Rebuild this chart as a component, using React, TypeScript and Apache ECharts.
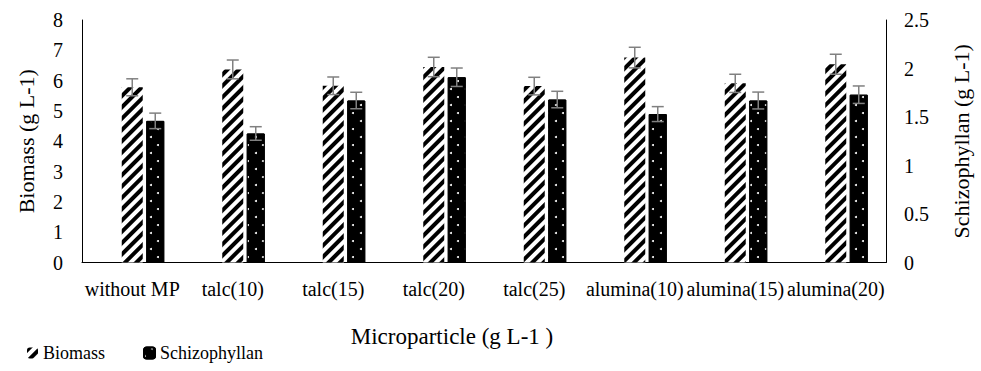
import React, { useEffect, useRef } from "react";
import * as echarts from "echarts";

const categories = [
  "without MP",
  "talc(10)",
  "talc(15)",
  "talc(20)",
  "talc(25)",
  "alumina(10)",
  "alumina(15)",
  "alumina(20)",
];
const biomass = [5.78, 6.37, 5.83, 6.45, 5.82, 6.76, 5.91, 6.54];
const biomassErr = [0.28, 0.31, 0.29, 0.32, 0.29, 0.34, 0.3, 0.33];
const schizophyllan = [1.46, 1.33, 1.67, 1.91, 1.68, 1.53, 1.67, 1.73];
const schizophyllanErr = [0.08, 0.07, 0.085, 0.095, 0.085, 0.077, 0.087, 0.09];
const leftTicks = { min: 0, max: 8, interval: 1 };
const rightTicks = { min: 0, max: 2.5, interval: 0.5 };

const FONT = "Times New Roman, Liberation Serif, DejaVu Serif, serif";
const SCHIZO_OFFSET = 23;

function errorRender(offset: number) {
  return (params: any, api: any) => {
    const x = api.value(0);
    const y = api.value(1);
    const e = api.value(2);
    const top = api.coord([x, y + e]);
    const bot = api.coord([x, y - e]);
    const cx = top[0] + offset;
    const style = { stroke: "#808080", lineWidth: 1.5 };
    const cap = 6;
    return {
      type: "group",
      children: [
        { type: "line", shape: { x1: cx, y1: top[1], x2: cx, y2: bot[1] }, style },
        { type: "line", shape: { x1: cx - cap, y1: top[1], x2: cx + cap, y2: top[1] }, style },
        { type: "line", shape: { x1: cx - cap, y1: bot[1], x2: cx + cap, y2: bot[1] }, style },
      ],
    };
  };
}

export default function App() {
  const ref = useRef<HTMLDivElement>(null);
  useEffect(() => {
    document.body.style.margin = "0";
    const chart = echarts.init(ref.current!, null, { renderer: "svg" });
    const axisLine = { show: true, lineStyle: { color: "#000", width: 1 } };
    chart.setOption({
      animation: false,
      textStyle: { fontFamily: FONT, color: "#000" },
      grid: { left: 82, right: 95, top: 20, bottom: 108.5, containLabel: false },
      legend: {
        left: 22,
        top: 339,
        itemWidth: 11,
        itemHeight: 11,
        itemGap: 38,
        data: ["Biomass", "Schizophyllan"],
        textStyle: { fontFamily: FONT, fontSize: 18, color: "#000" },
      },
      graphic: [
        {
          type: "text",
          x: 452,
          y: 336,
          style: {
            text: "Microparticle (g L-1 )",
            fontFamily: FONT,
            fontSize: 23,
            fill: "#000",
            textAlign: "center",
            textVerticalAlign: "middle",
          },
        },
      ],
      xAxis: [
        {
          type: "category",
          data: categories,
          axisLine,
          axisTick: { show: false },
          axisLabel: { interval: 0, fontSize: 20, color: "#000", margin: 16, fontFamily: FONT },
        },
        {
          type: "category",
          data: categories,
          show: false,
        },
      ],
      yAxis: [
        {
          type: "value",
          ...leftTicks,
          name: "Biomass (g L-1)",
          nameLocation: "middle",
          nameRotate: 90,
          nameGap: 45,
          nameTextStyle: { fontSize: 22, color: "#000", fontFamily: FONT },
          axisLine,
          axisTick: { show: false },
          splitLine: { show: false },
          axisLabel: { fontSize: 20, color: "#000", margin: 19, fontFamily: FONT },
        },
        {
          type: "value",
          ...rightTicks,
          position: "right",
          name: "Schizophyllan (g L-1)",
          nameLocation: "middle",
          nameRotate: 90,
          nameGap: 64,
          nameTextStyle: { fontSize: 22, color: "#000", fontFamily: FONT },
          axisLine,
          axisTick: { show: false },
          splitLine: { show: false },
          axisLabel: { fontSize: 20, color: "#000", margin: 18, fontFamily: FONT },
        },
      ],
      series: [
        {
          name: "Biomass",
          type: "bar",
          xAxisIndex: 0,
          yAxisIndex: 0,
          barWidth: 21,
          data: biomass,
          itemStyle: {
            color: "#fff",
            decal: {
              symbol: "rect",
              symbolSize: 1,
              color: "#000",
              dashArrayX: [1, 0],
              dashArrayY: [3.2, 3.2],
              rotation: -Math.PI / 4,
            },
          },
        },
        {
          name: "spacer",
          type: "bar",
          xAxisIndex: 1,
          yAxisIndex: 1,
          barWidth: 46,
          barGap: "0%",
          data: categories.map(() => null),
          itemStyle: { color: "transparent" },
          silent: true,
        },
        {
          name: "Schizophyllan",
          type: "bar",
          xAxisIndex: 1,
          yAxisIndex: 1,
          barWidth: 18,
          barGap: "0%",
          data: schizophyllan,
          itemStyle: {
            color: "#000",
            borderColor: "#000",
            borderWidth: 1,
            decal: {
              symbol: "circle",
              symbolSize: 1,
              color: "#fff",
              dashArrayX: [[1.5, 12.5], [0, 7, 1.5, 5.5]],
              dashArrayY: [1.5, 5.5],
            },
          },
        },
        {
          name: "biomassErr",
          type: "custom",
          xAxisIndex: 0,
          yAxisIndex: 0,
          z: 5,
          renderItem: errorRender(0),
          encode: { x: 0, y: 1 },
          data: categories.map((_, i) => [i, biomass[i], biomassErr[i]]),
        },
        {
          name: "schizoErr",
          type: "custom",
          xAxisIndex: 1,
          yAxisIndex: 1,
          z: 5,
          renderItem: errorRender(SCHIZO_OFFSET),
          encode: { x: 0, y: 1 },
          data: categories.map((_, i) => [i, schizophyllan[i], schizophyllanErr[i]]),
        },
      ],
    });
    return () => chart.dispose();
  }, []);
  return <div ref={ref} style={{ width: 981, height: 371 }} />;
}
